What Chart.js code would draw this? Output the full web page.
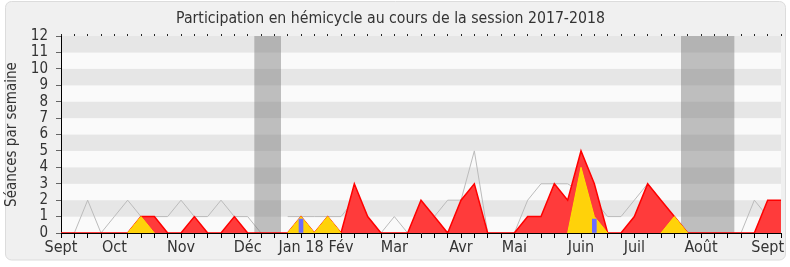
<!DOCTYPE html>
<html><head><meta charset="utf-8">
<script src="https://cdn.jsdelivr.net/npm/chart.js@4/dist/chart.umd.min.js"></script>
<style>html,body{margin:0;padding:0;background:#fff;}canvas{display:block;}</style>
</head><body>
<canvas id="c" width="790" height="267"></canvas>
<script>
// Week index of each month label, and the labels
const monthIndex = [0, 4, 9, 14, 18, 21, 25, 30, 34, 39, 43, 48, 53];
const monthNames = ['Sept', 'Oct', 'Nov', 'Déc', 'Jan 18', 'Fév', 'Mar', 'Avr', 'Mai', 'Juin', 'Juil', 'Août', 'Sept'];
const weekCount = 55;
const yTicks = [0,1,2,3,4,5,6,7,8,9,10,11,12];

// Présences (red area)
const presences = [0,0,0,0,0, 0,1,1,0,0, 1,0,0,1,0, 0,0,0,1,0, 1,0,3,1,0, 0,0,2,1,0, 2,3,0,0,0, 1,1,3,2,5, 3,0,0,1,3, 2,1,0,0,0, 0,0,0,2,2];
// Interventions (yellow area)
const interventions = [null,null,null,null,null, 0,1,0,null,null, null,null,null,null,null, null,null,0,1,0, 1,0,null,null,null, null,null,null,null,null, null,null,null,null,null, null,null,null,0,4, 1,0,null,null,null, 0,1,0,null,null, null,null,null,null,null];
// Questions orales (blue bars)
const questions = [null,null,null,null,null, null,null,null,null,null, null,null,null,null,null, null,null,null,0.85,null, null,null,null,null,null, null,null,null,null,null, null,null,null,null,null, null,null,null,null,null, 0.85,null,null,null,null, null,null,null,null,null, null,null,null,null,null];
// Médiane des députés (grey line)
const mediane = [0,0,2,0,1, 2,1,1,1,2, 1,1,2,1,1, 0,null,1,1,1, 1,1,2,1,0, 1,0,1,1,2, 2,5,0,0,0, 2,3,3,3,2.5, 2,1,1,2,3, 2,1,0,0,0, 0,0,2,1,2];
// Vacances parlementaires (grey vertical bands)
const vacances = [0,0,0,0,0, 0,0,0,0,0, 0,0,0,0,0, 12,12,0,0,0, 0,0,0,0,0, 0,0,0,0,0, 0,0,0,0,0, 0,0,0,0,0, 0,0,0,0,0, 0,0,12,12,12, 12,0,0,0,0];

const weekLabels = [];
for (let i = 0; i < weekCount; i++) {
  const k = monthIndex.indexOf(i);
  weekLabels.push(k >= 0 ? monthNames[k] : '');
}

const FONT = "'DejaVu Sans Condensed', 'DejaVu Sans', sans-serif";

const backgroundPlugin = {
  id: 'bg',
  beforeDraw(chart) {
    const ctx = chart.ctx;
    ctx.save();
    ctx.fillStyle = '#ffffff';
    ctx.fillRect(0, 0, chart.width, chart.height);
    ctx.beginPath();
    ctx.roundRect(5.5, 1.5, 780, 258.5, 6);
    ctx.fillStyle = '#f0f0f0';
    ctx.fill();
    ctx.strokeStyle = '#dcdcdc';
    ctx.lineWidth = 1;
    ctx.stroke();
    const a = chart.chartArea, y = chart.scales.y;
    for (let v = 0; v < 12; v++) {
      const y0 = y.getPixelForValue(v), y1 = y.getPixelForValue(v + 1);
      ctx.fillStyle = (v % 2 === 1) ? '#e6e6e6' : '#fafafa';
      ctx.fillRect(a.left, y1, a.right - a.left, y0 - y1);
    }
    ctx.restore();
  }
};

new Chart(document.getElementById('c'), {
  type: 'line',
  data: {
    labels: weekLabels,
    datasets: [
      { type: 'bar', label: 'Questions orales', data: questions, backgroundColor: '#6b6bff', barThickness: 4, grouped: false, order: 0 },
      { label: 'Interventions', data: interventions, fill: 'origin', backgroundColor: '#ffd20a', borderColor: '#ffe000', borderWidth: 1, pointRadius: 0, tension: 0, spanGaps: false, order: 1 },
      { label: 'Présences', data: presences, fill: 'origin', backgroundColor: '#ff3b3b', borderColor: '#ff0000', borderWidth: 1.5, pointRadius: 0, tension: 0, order: 2 },
      { label: 'Vacances', data: vacances, stepped: 'middle', fill: 'origin', backgroundColor: 'rgba(117,117,117,0.45)', borderWidth: 0, borderColor: 'rgba(0,0,0,0)', pointRadius: 0, order: 3 },
      { label: 'Médiane', data: mediane, fill: false, borderColor: '#bbbbbb', borderWidth: 1, pointRadius: 0, tension: 0, spanGaps: false, order: 4 }
    ]
  },
  options: {
    responsive: false,
    animation: false,
    devicePixelRatio: 1,
    layout: { padding: { left: 0, right: 9, top: 0, bottom: 0 } },
    plugins: {
      legend: { display: false },
      tooltip: { enabled: false },
      title: { display: true, text: 'Participation en hémicycle au cours de la session 2017-2018', color: '#333', font: { family: FONT, size: 15.7, weight: 'normal', lineHeight: 1.2 }, padding: { top: 10, bottom: 5.2 } }
    },
    scales: {
      x: {
        type: 'category', offset: false,
        grid: { drawOnChartArea: false, tickLength: 5, color: '#000', offset: false },
        border: { color: '#000', width: 1 },
        ticks: { autoSkip: false, maxRotation: 0, minRotation: 0, padding: 0, color: '#333', font: { family: FONT, size: 16 } },
        afterFit(s) { s.height = 34; }
      },
      x2: {
        type: 'category', position: 'top', offset: false,
        grid: { drawOnChartArea: false, tickLength: 2, color: '#222', offset: false },
        border: { display: false },
        ticks: { display: false },
        afterFit(s) { s.height = 2; }
      },
      y: {
        min: 0, max: 12,
        afterBuildTicks(s) { s.ticks = yTicks.map(v => ({ value: v })); },
        grid: { drawOnChartArea: false, tickLength: 5, color: '#666' },
        border: { color: '#000', width: 1 },
        ticks: { autoSkip: false, padding: 8, color: '#333', font: { family: FONT, size: 15 } },
        title: { display: true, text: 'Séances par semaine', color: '#333', font: { family: FONT, size: 15 }, padding: { top: 3, bottom: 0 } },
        afterFit(s) { s.width = 61; }
      }
    }
  },
  plugins: [backgroundPlugin]
});
</script>
</body></html>
